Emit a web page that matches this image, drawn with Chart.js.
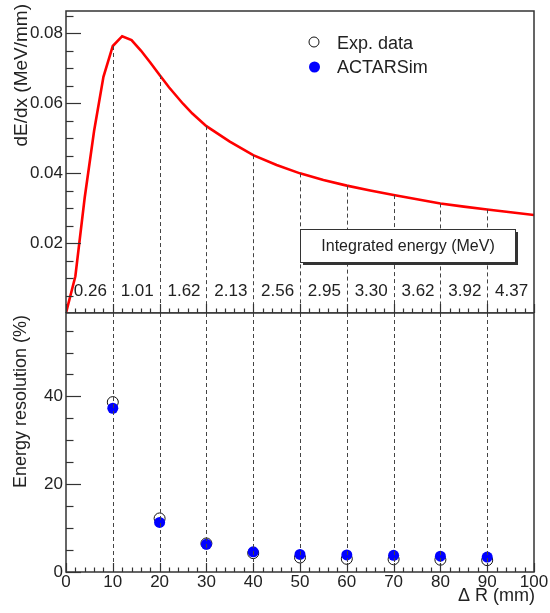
<!DOCTYPE html>
<html>
<head>
<meta charset="utf-8">
<script src="https://cdn.jsdelivr.net/npm/chart.js@4.4.0/dist/chart.umd.min.js"></script>
<style>
  html, body { margin: 0; padding: 0; background: #fff; }
  #wrap { position: relative; width: 550px; height: 613px; }
  canvas { position: absolute; left: 0; }
  #topPanel { top: 0; }
  #bottomPanel { top: 300px; }
</style>
</head>
<body>
<div id="wrap">
  <canvas id="topPanel" width="550" height="313"></canvas>
  <canvas id="bottomPanel" width="550" height="313"></canvas>
</div>
<script>
// dE/dx curve (MeV/mm) vs Delta R (mm)
const curveR    = [0, 2, 4, 6, 8, 10, 12, 14, 16, 18, 20, 22, 25, 27, 30, 35, 40, 45, 50, 55, 60, 65, 70, 75, 80, 85, 90, 95, 100];
const curveDEdx = [0, 0.0105, 0.033, 0.052, 0.0675, 0.0763, 0.0791, 0.0780, 0.0750, 0.0716, 0.0680, 0.0645, 0.0598, 0.0570, 0.0534, 0.0490, 0.0451, 0.0423, 0.0399, 0.0380, 0.0364, 0.0350, 0.0337, 0.0325, 0.0313, 0.0304, 0.0296, 0.0288, 0.0280];

// energy resolution (%)
const resR   = [10, 20, 30, 40, 50, 60, 70, 80, 90];
const expRes = [38.7, 12.2, 6.5, 4.3, 3.3, 3.0, 2.9, 2.8, 2.7];
const simRes = [37.3, 11.3, 6.3, 4.6, 4.0, 3.9, 3.8, 3.6, 3.4];

// integrated energy per 10 mm slice (MeV)
const sliceStart = [0, 10, 20, 30, 40, 50, 60, 70, 80, 90];
const integratedE = ['0.26', '1.01', '1.62', '2.13', '2.56', '2.95', '3.30', '3.62', '3.92', '4.37'];

const guideR = [10, 20, 30, 40, 50, 60, 70, 80, 90];
const xTicks = [0, 10, 20, 30, 40, 50, 60, 70, 80, 90, 100];
const yTopTicks = [0.02, 0.04, 0.06, 0.08];
const yBotTicks = [0, 20, 40];

const FONT = '"Liberation Sans", Arial, Helvetica, sans-serif';
const INK = '#222';
const FRAME = '#333';

function drawFrame(ctx, a) {
  ctx.strokeStyle = FRAME;
  ctx.lineWidth = 1.5;
  ctx.setLineDash([]);
  ctx.strokeRect(a.left, a.top, a.right - a.left, a.bottom - a.top);
}

// ROOT-like inward ticks
function yTicksIn(ctx, scale, left, step, n, every, major, minor) {
  ctx.strokeStyle = FRAME;
  ctx.lineWidth = 1.2;
  for (let i = 0; i <= n; i++) {
    const py = Math.round(scale.getPixelForValue(i * step)) + 0.5;
    const len = i % every === 0 ? major : minor;
    ctx.beginPath(); ctx.moveTo(left, py); ctx.lineTo(left + len, py); ctx.stroke();
  }
}
function xTicksIn(ctx, scale, bottom, major, minor) {
  ctx.strokeStyle = FRAME;
  ctx.lineWidth = 1.2;
  for (let i = 0; i <= 50; i++) {
    const px = Math.round(scale.getPixelForValue(i * 2)) + 0.5;
    const len = i % 5 === 0 ? major : minor;
    ctx.beginPath(); ctx.moveTo(px, bottom); ctx.lineTo(px, bottom - len); ctx.stroke();
  }
}

function vTitle(ctx, text, size, x, yEnd) {
  ctx.save();
  ctx.translate(x, yEnd);
  ctx.rotate(-Math.PI / 2);
  ctx.font = size + 'px ' + FONT;
  ctx.fillStyle = INK;
  ctx.textAlign = 'right';
  ctx.textBaseline = 'alphabetic';
  ctx.fillText(text, 0, 0);
  ctx.restore();
}

// keep the plot area fixed: no extra room for edge labels
function noEdgePadding(s) {
  s.paddingTop = 0; s.paddingBottom = 0; s.paddingLeft = 0; s.paddingRight = 0;
}

const topDecor = {
  id: 'topDecor',
  afterDatasetsDraw(chart) {
    const { ctx, chartArea: a, scales: { x, y } } = chart;
    ctx.save();
    // dashed guides from the curve down
    ctx.strokeStyle = '#444';
    ctx.lineWidth = 1;
    ctx.setLineDash([4, 3]);
    guideR.forEach(r => {
      const px = Math.round(x.getPixelForValue(r)) + 0.5;
      const py = y.getPixelForValue(curveDEdx[curveR.indexOf(r)]);
      ctx.beginPath(); ctx.moveTo(px, py); ctx.lineTo(px, a.bottom); ctx.stroke();
    });
    ctx.setLineDash([]);

    // "Integrated energy" box with shadow
    ctx.fillStyle = '#333';
    ctx.fillRect(303, 232, 215, 33);
    ctx.fillStyle = '#fff';
    ctx.fillRect(300, 229, 215, 33);
    ctx.strokeStyle = '#333';
    ctx.lineWidth = 1;
    ctx.strokeRect(300.5, 229.5, 215, 33);
    ctx.fillStyle = INK;
    ctx.font = '16px ' + FONT;
    ctx.textAlign = 'center';
    ctx.textBaseline = 'middle';
    ctx.fillText('Integrated energy (MeV)', 408, 247);

    // slice energies
    ctx.font = '17px ' + FONT;
    ctx.textBaseline = 'alphabetic';
    sliceStart.forEach((r, i) => {
      ctx.fillText(integratedE[i], x.getPixelForValue(r + 5) + 1, 296);
    });

    // legend
    ctx.lineWidth = 1;
    ctx.strokeStyle = '#111';
    ctx.beginPath(); ctx.arc(314, 42, 5, 0, Math.PI * 2); ctx.stroke();
    ctx.fillStyle = '#0000ff';
    ctx.beginPath(); ctx.arc(314.5, 67, 5.5, 0, Math.PI * 2); ctx.fill();
    ctx.fillStyle = INK;
    ctx.font = '18px ' + FONT;
    ctx.textAlign = 'left';
    ctx.fillText('Exp. data', 337, 48.5);
    ctx.fillText('ACTARSim', 337, 73);

    drawFrame(ctx, a);
    yTicksIn(ctx, y, a.left, 0.005, 17, 4, 15, 7.5);
    xTicksIn(ctx, x, a.bottom, 9, 4.5);
    vTitle(ctx, 'dE/dx (MeV/mm)', 19, 27, 4);
    ctx.restore();
  }
};

const bottomDecor = {
  id: 'bottomDecor',
  afterDatasetsDraw(chart) {
    const { ctx, chartArea: a, scales: { x, y } } = chart;
    ctx.save();
    ctx.strokeStyle = '#444';
    ctx.lineWidth = 1;
    ctx.setLineDash([4, 3]);
    guideR.forEach(r => {
      const px = Math.round(x.getPixelForValue(r)) + 0.5;
      ctx.beginPath(); ctx.moveTo(px, a.top); ctx.lineTo(px, a.bottom); ctx.stroke();
    });
    ctx.setLineDash([]);
    drawFrame(ctx, a);
    yTicksIn(ctx, y, a.left, 5, 11, 4, 15, 7.5);
    xTicksIn(ctx, x, a.bottom, 9, 4.5);
    vTitle(ctx, 'Energy resolution (%)', 18, 26, 15);
    ctx.font = '18px ' + FONT;
    ctx.fillStyle = INK;
    ctx.textAlign = 'right';
    ctx.textBaseline = 'alphabetic';
    ctx.fillText('\u0394 R (mm)', 535, 301);
    ctx.restore();
  }
};

const tickFont = { family: FONT, size: 17 };

new Chart(document.getElementById('topPanel'), {
  type: 'line',
  data: {
    datasets: [{
      data: curveR.map((r, i) => ({ x: r, y: curveDEdx[i] })),
      borderColor: '#ff0000',
      borderWidth: 2.6,
      pointRadius: 0,
      tension: 0
    }]
  },
  options: {
    responsive: false,
    animation: false,
    layout: { padding: { top: 11, right: 16, bottom: 0, left: 0 } },
    plugins: { legend: { display: false }, tooltip: { enabled: false } },
    scales: {
      x: { type: 'linear', min: 0, max: 100, display: false },
      y: {
        min: 0, max: 0.0863,
        afterFit: s => { s.width = 66; noEdgePadding(s); },
        afterBuildTicks: s => { s.ticks = yTopTicks.map(v => ({ value: v })); },
        grid: { display: false, drawTicks: false },
        border: { display: false },
        ticks: { font: tickFont, color: INK, padding: 3, callback: v => v.toFixed(2) }
      }
    }
  },
  plugins: [topDecor]
});

new Chart(document.getElementById('bottomPanel'), {
  type: 'scatter',
  data: {
    datasets: [
      {
        label: 'Exp. data',
        data: resR.map((r, i) => ({ x: r, y: expRes[i] })),
        pointRadius: 5.5,
        pointBackgroundColor: 'rgba(0,0,0,0)',
        pointBorderColor: '#111',
        pointBorderWidth: 1,
        order: 1
      },
      {
        label: 'ACTARSim',
        data: resR.map((r, i) => ({ x: r, y: simRes[i] })),
        pointRadius: 5.5,
        pointBackgroundColor: '#0000ff',
        pointBorderColor: '#0000ff',
        pointBorderWidth: 0,
        order: 0
      }
    ]
  },
  options: {
    responsive: false,
    animation: false,
    layout: { padding: { top: 13, right: 16, bottom: 0, left: 0 } },
    plugins: { legend: { display: false }, tooltip: { enabled: false } },
    scales: {
      x: {
        type: 'linear', min: 0, max: 100,
        afterFit: s => { s.height = 41; noEdgePadding(s); },
        afterBuildTicks: s => { s.ticks = xTicks.map(v => ({ value: v })); },
        grid: { display: false, drawTicks: false },
        border: { display: false },
        ticks: { font: tickFont, color: INK, padding: 0, autoSkip: false, maxRotation: 0 }
      },
      y: {
        min: 0, max: 59,
        afterFit: s => { s.width = 66; noEdgePadding(s); },
        afterBuildTicks: s => { s.ticks = yBotTicks.map(v => ({ value: v })); },
        grid: { display: false, drawTicks: false },
        border: { display: false },
        ticks: { font: tickFont, color: INK, padding: 3 }
      }
    }
  },
  plugins: [bottomDecor]
});
</script>
</body>
</html>
